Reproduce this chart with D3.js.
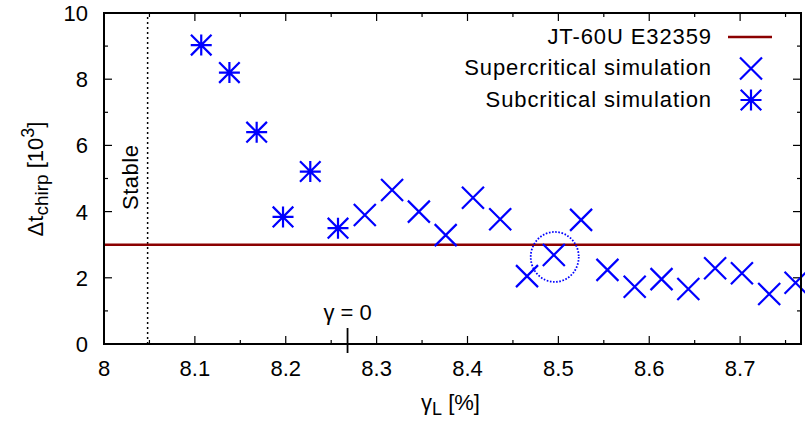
<!DOCTYPE html>
<html><head><meta charset="utf-8">
<script src="https://cdn.jsdelivr.net/npm/d3@7"></script>
<style>
body{margin:0;background:#fff;}
text{font-family:"Liberation Sans",Arial,Helvetica,sans-serif;fill:#000;}
</style></head>
<body><svg id="c" width="805" height="423"></svg>
<script>
const subX = [8.107, 8.138, 8.168, 8.197, 8.227, 8.2575];
const subY = [9.03, 8.20, 6.40, 3.84, 5.21, 3.50];
const supX = [8.287, 8.317, 8.3465, 8.376, 8.406, 8.436, 8.4655, 8.495, 8.525, 8.554, 8.584, 8.6135, 8.643, 8.6725, 8.702, 8.732, 8.761];
const supY = [3.90, 4.65, 4.00, 3.29, 4.42, 3.77, 2.05, 2.69, 3.75, 2.24, 1.73, 1.96, 1.66, 2.29, 2.14, 1.51, 1.85];
const expValue = 3.0;
const stableX = 8.048;
const gamma0X = 8.268;
const circled = {x: 8.496, y: 2.63};
const xTicks = [8, 8.1, 8.2, 8.3, 8.4, 8.5, 8.6, 8.7];
const yTicks = [0, 2, 4, 6, 8, 10];
const legendLabels = ["JT-60U E32359", "Supercritical simulation", "Subcritical simulation"];

const W = 805, H = 423, m = {l:104, t:13, r:4, b:79};
const svg = d3.select("#c");
const x = d3.scaleLinear().domain([8, 8.767]).range([m.l, W - m.r]);
const y = d3.scaleLinear().domain([0, 10]).range([H - m.b, m.t]);
const blue = "#0000ff", red = "#8b0000";
const fs = 22;

// ticks (inward) on all sides
const xMinor = d3.range(8, 8.77, 0.05);
const yMinor = d3.range(0, 10.01, 1);
const tg = svg.append("g").attr("stroke", "#000").attr("stroke-width", 1.2);
xMinor.forEach(v => {
  const major = xTicks.some(t => Math.abs(t - v) < 1e-6);
  const L = major ? 8 : 4;
  tg.append("line").attr("x1", x(v)).attr("x2", x(v)).attr("y1", y(0)).attr("y2", y(0) - L);
  tg.append("line").attr("x1", x(v)).attr("x2", x(v)).attr("y1", y(10)).attr("y2", y(10) + L);
});
yMinor.forEach(v => {
  const major = yTicks.some(t => Math.abs(t - v) < 1e-6);
  const L = major ? 8 : 4;
  tg.append("line").attr("y1", y(v)).attr("y2", y(v)).attr("x1", x.range()[0]).attr("x2", x.range()[0] + L);
  tg.append("line").attr("y1", y(v)).attr("y2", y(v)).attr("x1", x.range()[1]).attr("x2", x.range()[1] - L);
});

// tick labels
svg.append("g").selectAll("text").data(xTicks).join("text")
  .attr("x", d => x(d)).attr("y", y(0) + 32).attr("text-anchor", "middle")
  .attr("font-size", fs).text(d => d3.format("")(d));
svg.append("g").selectAll("text").data(yTicks).join("text")
  .attr("x", m.l - 16).attr("y", d => y(d) + 8).attr("text-anchor", "end")
  .attr("font-size", fs).text(d => d);

// stable dotted line
svg.append("line").attr("x1", x(stableX)).attr("x2", x(stableX)).attr("y1", y(0)).attr("y2", y(10))
  .attr("stroke", "#000").attr("stroke-width", 1.5).attr("stroke-dasharray", "2,3");
svg.append("text").attr("transform", `translate(${x(stableX) - 10},210) rotate(-90)`)
  .attr("font-size", fs).attr("letter-spacing", 0.5).text("Stable");

// experimental line
svg.append("line").attr("x1", x.range()[0]).attr("x2", x.range()[1]).attr("y1", y(expValue)).attr("y2", y(expValue))
  .attr("stroke", red).attr("stroke-width", 2.5);

// markers
function cross(g, cx, cy, s) {
  g.append("path").attr("d", `M${cx-s},${cy-s}L${cx+s},${cy+s}M${cx-s},${cy+s}L${cx+s},${cy-s}`)
    .attr("stroke", blue).attr("stroke-width", 2.2).attr("fill", "none");
}
function star(g, cx, cy, s) {
  const d = s * 0.98;
  g.append("path").attr("d", `M${cx-s},${cy}L${cx+s},${cy}M${cx},${cy-s}L${cx},${cy+s}M${cx-d},${cy-d}L${cx+d},${cy+d}M${cx-d},${cy+d}L${cx+d},${cy-d}`)
    .attr("stroke", blue).attr("stroke-width", 2.2).attr("fill", "none");
}
const mg = svg.append("g");
supX.forEach((v, i) => cross(mg, x(v), y(supY[i]), 11));
subX.forEach((v, i) => star(mg, x(v), y(subY[i]), 10.5));

// circle highlight
svg.append("ellipse").attr("cx", x(circled.x)).attr("cy", y(circled.y)).attr("rx", 24).attr("ry", 25)
  .attr("fill", "none").attr("stroke", blue).attr("stroke-width", 1.8).attr("stroke-dasharray", "1.6,1.6");

// gamma = 0 marker
svg.append("line").attr("x1", x(gamma0X)).attr("x2", x(gamma0X)).attr("y1", 328).attr("y2", 353)
  .attr("stroke", "#000").attr("stroke-width", 1.8);
svg.append("text").attr("x", x(gamma0X)).attr("y", 320).attr("text-anchor", "middle").attr("font-size", fs)
  .text("γ = 0");

// frame
svg.append("rect").attr("x", m.l).attr("y", m.t).attr("width", W - m.l - m.r).attr("height", H - m.t - m.b)
  .attr("fill", "none").attr("stroke", "#000").attr("stroke-width", 2);

// axis titles
const xt = svg.append("text").attr("x", (m.l + W - m.r) / 2 - 2).attr("y", 410).attr("text-anchor", "middle").attr("font-size", fs);
xt.append("tspan").text("γ");
xt.append("tspan").attr("font-size", fs - 4).attr("dy", 5).text("L");
xt.append("tspan").attr("dy", -5).text(" [%]");

const yt = svg.append("text").attr("transform", `translate(43,179) rotate(-90)`).attr("text-anchor", "middle").attr("font-size", fs);
yt.append("tspan").text("Δt");
yt.append("tspan").attr("font-size", fs - 3).attr("dy", 5).text("chirp");
yt.append("tspan").attr("dy", -5).text(" [10");
yt.append("tspan").attr("font-size", fs - 4).attr("dy", -9).text("3");
yt.append("tspan").attr("dy", 9).text("]");

// legend
const lx = 712, rows = [37, 68.5, 100];
legendLabels.forEach((t, i) => {
  svg.append("text").attr("x", lx).attr("y", rows[i] + 6.5).attr("text-anchor", "end")
    .attr("font-size", fs).attr("letter-spacing", 0.9).text(t);
});
svg.append("line").attr("x1", 728).attr("x2", 772).attr("y1", rows[0]).attr("y2", rows[0])
  .attr("stroke", red).attr("stroke-width", 2.5);
cross(svg, 751, rows[1], 11);
star(svg, 751, rows[2], 10.5);
</script></body></html>
